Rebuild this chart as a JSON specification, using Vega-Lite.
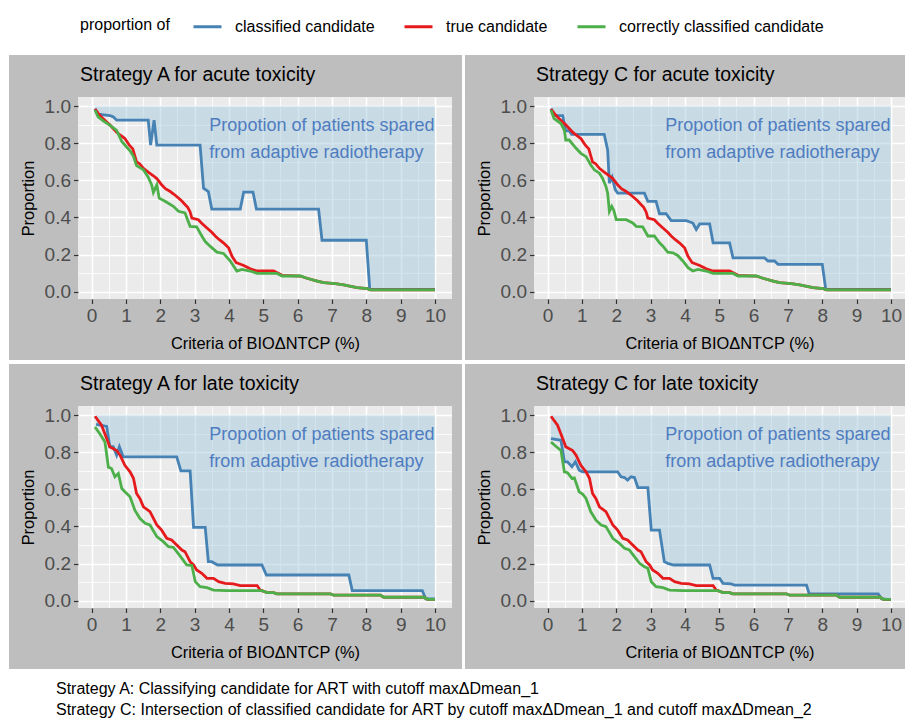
{
"$schema": "https://vega.github.io/schema/vega-lite/v6.json",
"padding": {"left": 9, "top": 15, "right": 0, "bottom": 0},
"background": "white",
"title": {"text": ["Strategy A: Classifying candidate for ART with cutoff maxΔDmean_1", "Strategy C: Intersection of classified candidate for ART by cutoff maxΔDmean_1 and cutoff maxΔDmean_2"], "orient": "bottom", "anchor": "start", "frame": "bounds", "fontSize": 16, "fontWeight": "normal", "color": "black", "lineHeight": 21, "offset": 12, "dx": 47, "baseline": "top"},
"datasets": {
"ac_true": [{"x":0.1,"y":0.985},{"x":0.2,"y":0.96},{"x":0.3,"y":0.94},{"x":0.44,"y":0.915},{"x":0.53,"y":0.9},{"x":0.63,"y":0.88},{"x":0.73,"y":0.86},{"x":0.83,"y":0.845},{"x":0.97,"y":0.826},{"x":1.1,"y":0.79},{"x":1.2,"y":0.77},{"x":1.31,"y":0.7},{"x":1.4,"y":0.69},{"x":1.51,"y":0.665},{"x":1.65,"y":0.645},{"x":1.8,"y":0.625},{"x":1.9,"y":0.61},{"x":2.04,"y":0.576},{"x":2.15,"y":0.555},{"x":2.29,"y":0.54},{"x":2.4,"y":0.525},{"x":2.53,"y":0.505},{"x":2.62,"y":0.49},{"x":2.72,"y":0.47},{"x":2.8,"y":0.455},{"x":2.87,"y":0.43},{"x":2.92,"y":0.397},{"x":3.11,"y":0.388},{"x":3.2,"y":0.37},{"x":3.36,"y":0.343},{"x":3.5,"y":0.32},{"x":3.6,"y":0.3},{"x":3.72,"y":0.28},{"x":3.84,"y":0.263},{"x":3.99,"y":0.236},{"x":4.09,"y":0.19},{"x":4.21,"y":0.156},{"x":4.3,"y":0.15},{"x":4.43,"y":0.141},{"x":4.55,"y":0.13},{"x":4.62,"y":0.123},{"x":4.82,"y":0.111},{"x":5.3,"y":0.111},{"x":5.42,"y":0.1},{"x":5.55,"y":0.088},{"x":6.08,"y":0.084},{"x":6.27,"y":0.072},{"x":6.57,"y":0.057},{"x":6.76,"y":0.048},{"x":7.1,"y":0.043},{"x":7.34,"y":0.036},{"x":7.73,"y":0.021},{"x":8.03,"y":0.016},{"x":8.12,"y":0.009},{"x":10,"y":0.009}],
"acA_cor": [{"x":0.1,"y":0.98},{"x":0.19,"y":0.943},{"x":0.35,"y":0.92},{"x":0.53,"y":0.898},{"x":0.73,"y":0.87},{"x":0.88,"y":0.81},{"x":1.02,"y":0.78},{"x":1.12,"y":0.76},{"x":1.22,"y":0.73},{"x":1.31,"y":0.68},{"x":1.51,"y":0.657},{"x":1.65,"y":0.617},{"x":1.75,"y":0.576},{"x":1.8,"y":0.535},{"x":1.9,"y":0.576},{"x":1.97,"y":0.504},{"x":2.14,"y":0.487},{"x":2.38,"y":0.46},{"x":2.53,"y":0.433},{"x":2.72,"y":0.424},{"x":2.87,"y":0.352},{"x":3.06,"y":0.349},{"x":3.21,"y":0.3},{"x":3.31,"y":0.27},{"x":3.45,"y":0.245},{"x":3.65,"y":0.213},{"x":3.84,"y":0.206},{"x":4.04,"y":0.165},{"x":4.23,"y":0.111},{"x":4.38,"y":0.12},{"x":4.62,"y":0.111},{"x":4.82,"y":0.098},{"x":5.4,"y":0.098},{"x":5.55,"y":0.084},{"x":6.08,"y":0.084},{"x":6.27,"y":0.072},{"x":6.57,"y":0.057},{"x":6.76,"y":0.048},{"x":7.1,"y":0.043},{"x":7.34,"y":0.036},{"x":7.73,"y":0.021},{"x":8.03,"y":0.016},{"x":8.12,"y":0.009},{"x":10,"y":0.009}],
"acA_cls": [{"x":0.1,"y":0.987},{"x":0.19,"y":0.957},{"x":0.53,"y":0.95},{"x":0.63,"y":0.943},{"x":0.73,"y":0.925},{"x":1.65,"y":0.925},{"x":1.72,"y":0.79},{"x":1.82,"y":0.925},{"x":1.9,"y":0.79},{"x":3.16,"y":0.79},{"x":3.26,"y":0.558},{"x":3.4,"y":0.54},{"x":3.5,"y":0.445},{"x":4.33,"y":0.445},{"x":4.43,"y":0.537},{"x":4.7,"y":0.537},{"x":4.8,"y":0.445},{"x":6.61,"y":0.445},{"x":6.71,"y":0.277},{"x":8.0,"y":0.277},{"x":8.1,"y":0.012},{"x":10,"y":0.012}],
"acC_cls": [{"x":0.1,"y":0.987},{"x":0.19,"y":0.95},{"x":0.44,"y":0.95},{"x":0.53,"y":0.868},{"x":0.63,"y":0.868},{"x":0.7,"y":0.848},{"x":1.65,"y":0.848},{"x":1.75,"y":0.764},{"x":1.8,"y":0.585},{"x":1.88,"y":0.617},{"x":1.97,"y":0.55},{"x":2.04,"y":0.531},{"x":2.82,"y":0.531},{"x":2.92,"y":0.487},{"x":3.16,"y":0.487},{"x":3.26,"y":0.42},{"x":3.45,"y":0.42},{"x":3.6,"y":0.383},{"x":4.04,"y":0.383},{"x":4.23,"y":0.37},{"x":4.33,"y":0.335},{"x":4.43,"y":0.365},{"x":4.72,"y":0.365},{"x":4.82,"y":0.263},{"x":5.3,"y":0.263},{"x":5.4,"y":0.182},{"x":6.32,"y":0.182},{"x":6.42,"y":0.165},{"x":6.61,"y":0.165},{"x":6.71,"y":0.147},{"x":8.0,"y":0.147},{"x":8.1,"y":0.012},{"x":10,"y":0.012}],
"acC_cor": [{"x":0.1,"y":0.98},{"x":0.19,"y":0.934},{"x":0.39,"y":0.907},{"x":0.49,"y":0.87},{"x":0.53,"y":0.818},{"x":0.63,"y":0.818},{"x":0.83,"y":0.773},{"x":0.97,"y":0.746},{"x":1.12,"y":0.728},{"x":1.26,"y":0.683},{"x":1.36,"y":0.657},{"x":1.51,"y":0.639},{"x":1.6,"y":0.612},{"x":1.7,"y":0.567},{"x":1.75,"y":0.531},{"x":1.8,"y":0.433},{"x":1.87,"y":0.46},{"x":1.93,"y":0.438},{"x":2.0,"y":0.388},{"x":2.29,"y":0.388},{"x":2.48,"y":0.37},{"x":2.58,"y":0.352},{"x":2.77,"y":0.349},{"x":2.92,"y":0.3},{"x":3.11,"y":0.3},{"x":3.26,"y":0.263},{"x":3.36,"y":0.245},{"x":3.5,"y":0.213},{"x":3.65,"y":0.209},{"x":3.79,"y":0.195},{"x":3.94,"y":0.165},{"x":4.09,"y":0.129},{"x":4.23,"y":0.111},{"x":4.38,"y":0.12},{"x":4.62,"y":0.111},{"x":4.82,"y":0.098},{"x":5.4,"y":0.098},{"x":5.55,"y":0.084},{"x":6.08,"y":0.084},{"x":6.27,"y":0.072},{"x":6.57,"y":0.057},{"x":6.76,"y":0.048},{"x":7.1,"y":0.043},{"x":7.34,"y":0.036},{"x":7.73,"y":0.021},{"x":8.03,"y":0.016},{"x":8.12,"y":0.009},{"x":10,"y":0.009}],
"la_true": [{"x":0.1,"y":0.995},{"x":0.29,"y":0.946},{"x":0.44,"y":0.874},{"x":0.53,"y":0.83},{"x":0.73,"y":0.81},{"x":0.83,"y":0.785},{"x":0.97,"y":0.73},{"x":1.12,"y":0.695},{"x":1.22,"y":0.66},{"x":1.31,"y":0.578},{"x":1.41,"y":0.55},{"x":1.51,"y":0.506},{"x":1.7,"y":0.48},{"x":1.9,"y":0.408},{"x":2.04,"y":0.38},{"x":2.19,"y":0.336},{"x":2.33,"y":0.327},{"x":2.48,"y":0.3},{"x":2.63,"y":0.273},{"x":2.72,"y":0.264},{"x":2.87,"y":0.21},{"x":2.97,"y":0.192},{"x":3.06,"y":0.165},{"x":3.21,"y":0.147},{"x":3.36,"y":0.12},{"x":3.55,"y":0.12},{"x":3.7,"y":0.102},{"x":3.89,"y":0.093},{"x":4.13,"y":0.09},{"x":4.33,"y":0.081},{"x":4.82,"y":0.081},{"x":4.91,"y":0.057},{"x":4.96,"y":0.054},{"x":5.11,"y":0.043},{"x":5.3,"y":0.043},{"x":5.4,"y":0.036},{"x":6.96,"y":0.036},{"x":7.05,"y":0.029},{"x":8.41,"y":0.029},{"x":8.51,"y":0.018},{"x":9.68,"y":0.018},{"x":9.78,"y":0.007},{"x":10,"y":0.007}],
"laA_cls": [{"x":0.13,"y":0.951},{"x":0.44,"y":0.94},{"x":0.53,"y":0.83},{"x":0.63,"y":0.83},{"x":0.73,"y":0.785},{"x":0.81,"y":0.83},{"x":0.92,"y":0.776},{"x":2.48,"y":0.776},{"x":2.6,"y":0.7},{"x":2.87,"y":0.7},{"x":2.97,"y":0.395},{"x":3.31,"y":0.395},{"x":3.4,"y":0.21},{"x":3.5,"y":0.21},{"x":3.67,"y":0.192},{"x":4.96,"y":0.192},{"x":5.09,"y":0.138},{"x":7.49,"y":0.138},{"x":7.59,"y":0.054},{"x":9.63,"y":0.054},{"x":9.73,"y":0.009},{"x":10,"y":0.009}],
"laA_cor": [{"x":0.1,"y":0.937},{"x":0.24,"y":0.9},{"x":0.39,"y":0.856},{"x":0.49,"y":0.72},{"x":0.58,"y":0.713},{"x":0.68,"y":0.668},{"x":0.78,"y":0.686},{"x":0.88,"y":0.605},{"x":0.97,"y":0.587},{"x":1.12,"y":0.56},{"x":1.26,"y":0.488},{"x":1.41,"y":0.443},{"x":1.56,"y":0.417},{"x":1.7,"y":0.408},{"x":1.9,"y":0.345},{"x":2.09,"y":0.318},{"x":2.24,"y":0.291},{"x":2.38,"y":0.287},{"x":2.48,"y":0.264},{"x":2.63,"y":0.228},{"x":2.77,"y":0.192},{"x":2.92,"y":0.189},{"x":3.02,"y":0.102},{"x":3.16,"y":0.075},{"x":3.36,"y":0.07},{"x":3.55,"y":0.057},{"x":3.94,"y":0.054},{"x":4.96,"y":0.054},{"x":5.11,"y":0.043},{"x":5.3,"y":0.043},{"x":5.4,"y":0.036},{"x":6.96,"y":0.036},{"x":7.05,"y":0.029},{"x":8.41,"y":0.029},{"x":8.51,"y":0.018},{"x":9.68,"y":0.018},{"x":9.78,"y":0.007},{"x":10,"y":0.007}],
"laC_cls": [{"x":0.1,"y":0.874},{"x":0.39,"y":0.865},{"x":0.49,"y":0.749},{"x":0.58,"y":0.749},{"x":0.71,"y":0.722},{"x":0.81,"y":0.749},{"x":0.92,"y":0.704},{"x":1.02,"y":0.695},{"x":2.04,"y":0.695},{"x":2.14,"y":0.668},{"x":2.24,"y":0.664},{"x":2.33,"y":0.65},{"x":2.43,"y":0.668},{"x":2.53,"y":0.664},{"x":2.63,"y":0.61},{"x":2.92,"y":0.61},{"x":3.02,"y":0.38},{"x":3.26,"y":0.38},{"x":3.4,"y":0.21},{"x":3.5,"y":0.201},{"x":3.67,"y":0.192},{"x":4.72,"y":0.192},{"x":4.82,"y":0.12},{"x":5.01,"y":0.12},{"x":5.11,"y":0.093},{"x":5.35,"y":0.09},{"x":5.45,"y":0.083},{"x":7.54,"y":0.083},{"x":7.62,"y":0.036},{"x":9.63,"y":0.036},{"x":9.73,"y":0.009},{"x":10,"y":0.005}],
"laC_cor": [{"x":0.1,"y":0.856},{"x":0.24,"y":0.833},{"x":0.39,"y":0.81},{"x":0.49,"y":0.695},{"x":0.58,"y":0.69},{"x":0.71,"y":0.659},{"x":0.78,"y":0.662},{"x":0.92,"y":0.587},{"x":1.02,"y":0.575},{"x":1.12,"y":0.551},{"x":1.26,"y":0.479},{"x":1.41,"y":0.434},{"x":1.56,"y":0.408},{"x":1.7,"y":0.399},{"x":1.9,"y":0.336},{"x":2.09,"y":0.309},{"x":2.24,"y":0.282},{"x":2.38,"y":0.273},{"x":2.53,"y":0.237},{"x":2.68,"y":0.201},{"x":2.82,"y":0.183},{"x":2.92,"y":0.174},{"x":3.02,"y":0.102},{"x":3.16,"y":0.075},{"x":3.36,"y":0.07},{"x":3.55,"y":0.057},{"x":3.94,"y":0.054},{"x":4.96,"y":0.054},{"x":5.11,"y":0.043},{"x":5.3,"y":0.043},{"x":5.4,"y":0.036},{"x":6.96,"y":0.036},{"x":7.05,"y":0.029},{"x":8.41,"y":0.029},{"x":8.51,"y":0.018},{"x":9.68,"y":0.018},{"x":9.78,"y":0.007},{"x":10,"y":0.007}]
},
"columns": 2,
"spacing": 3,
"align": "each",
"concat": [
{
"width": 374, "height": 202,
"resolve": {"axis": {"x": "independent", "y": "independent"}},
"layer": [
{"data": {"values": [{}]}, "mark": {"type": "rect", "color": "#bebebe"}, "encoding": {
 "x": {"datum": -2.404, "type": "quantitative", "scale": {"domain": [-0.395, 10.495], "nice": false, "zero": false}, "axis": {"orient": "bottom", "grid": true, "labels": false, "ticks": false, "domain": false, "title": null, "zindex": 0, "values": [0,0.5,1,1.5,2,2.5,3,3.5,4,4.5,5,5.5,6,6.5,7,7.5,8,8.5,9,9.5,10], "gridColor": "white", "gridWidth": {"condition": {"test": "datum.value % 1 === 0", "value": 1.6}, "value": 0.8}}},
 "x2": {"datum": -0.395},
 "y": {"datum": -0.3692, "type": "quantitative", "scale": {"domain": [-0.04, 1.05], "nice": false, "zero": false}, "axis": {"orient": "left", "grid": true, "labels": false, "ticks": false, "domain": false, "title": null, "zindex": 0, "values": [0,0.1,0.2,0.3,0.4,0.5,0.6,0.7,0.8,0.9,1], "gridColor": "white", "gridWidth": {"condition": {"test": "round(datum.value*10) % 2 === 0", "value": 1.6}, "value": 0.8}}},
 "y2": {"datum": 1.2766}}},
{"data": {"values": [{}]}, "mark": {"type": "rect", "color": "#bebebe"}, "encoding": {
 "x": {"datum": 10.495, "type": "quantitative", "axis": null}, "x2": {"datum": 10.786},
 "y": {"datum": -0.3692, "type": "quantitative", "axis": null}, "y2": {"datum": 1.2766}}},
{"data": {"values": [{}]}, "mark": {"type": "rect", "color": "#bebebe"}, "encoding": {
 "x": {"datum": -2.404, "type": "quantitative", "axis": null}, "x2": {"datum": 10.786},
 "y": {"datum": 1.05, "type": "quantitative", "axis": null}, "y2": {"datum": 1.2766}}},
{"data": {"values": [{}]}, "mark": {"type": "rect", "color": "#bebebe"}, "encoding": {
 "x": {"datum": -2.404, "type": "quantitative", "axis": null}, "x2": {"datum": 10.786},
 "y": {"datum": -0.3692, "type": "quantitative", "axis": null}, "y2": {"datum": -0.04}}},
{"data": {"values": [{}]}, "mark": {"type": "text", "align": "left", "baseline": "alphabetic", "fontSize": 19.5, "color": "black", "text": "Strategy A for acute toxicity"}, "encoding": {
 "x": {"datum": -0.337, "type": "quantitative", "axis": null}, "y": {"datum": 1.136, "type": "quantitative", "axis": null}}},
{"data": {"name": "acA_cls"}, "mark": {"type": "area", "color": "#9ec5dc", "opacity": 0.45}, "encoding": {
 "x": {"field": "x", "type": "quantitative", "axis": null}, "y": {"field": "y", "type": "quantitative", "axis": null}, "y2": {"datum": 1}}},
{"data": {"name": "acA_cls"}, "mark": {"type": "line", "strokeWidth": 2.8}, "encoding": {
 "x": {"field": "x", "type": "quantitative", "axis": {"orient": "bottom", "grid": false, "zindex": 1, "values": [0,1,2,3,4,5,6,7,8,9,10], "title": "Criteria of BIOΔNTCP (%)"}},
 "y": {"field": "y", "type": "quantitative", "axis": {"orient": "left", "grid": false, "zindex": 1, "values": [0,0.2,0.4,0.6,0.8,1], "format": ".1f", "title": "Proportion"}},
 "color": {"datum": "classified candidate", "type": "nominal", "scale": {"domain": ["classified candidate", "true candidate", "correctly classified candidate"], "range": ["#4682b4", "#e41a1c", "#4daf4a"]}, "legend": {"title": "proportion of"}}}},
{"data": {"name": "ac_true"}, "mark": {"type": "line", "strokeWidth": 2.8}, "encoding": {
 "x": {"field": "x", "type": "quantitative", "axis": null}, "y": {"field": "y", "type": "quantitative", "axis": null},
 "color": {"datum": "true candidate", "type": "nominal"}}},
{"data": {"name": "acA_cor"}, "mark": {"type": "line", "strokeWidth": 2.8}, "encoding": {
 "x": {"field": "x", "type": "quantitative", "axis": null}, "y": {"field": "y", "type": "quantitative", "axis": null},
 "color": {"datum": "correctly classified candidate", "type": "nominal"}}},
{"data": {"values": [{}]}, "mark": {"type": "text", "align": "left", "baseline": "middle", "fontSize": 18, "color": "#4f7cc0", "lineHeight": 27, "text": ["Propotion of patients spared", "from adaptive radiotherapy"]}, "encoding": {
 "x": {"datum": 3.43, "type": "quantitative", "axis": null}, "y": {"datum": 0.893, "type": "quantitative", "axis": null}}}
]
},
{
"width": 371, "height": 202,
"resolve": {"axis": {"x": "independent", "y": "independent"}},
"layer": [
{"data": {"values": [{}]}, "mark": {"type": "rect", "color": "#bebebe"}, "encoding": {
 "x": {"datum": -2.404, "type": "quantitative", "scale": {"domain": [-0.395, 10.409], "nice": false, "zero": false}, "axis": {"orient": "bottom", "grid": true, "labels": false, "ticks": false, "domain": false, "title": null, "zindex": 0, "values": [0,0.5,1,1.5,2,2.5,3,3.5,4,4.5,5,5.5,6,6.5,7,7.5,8,8.5,9,9.5,10], "gridColor": "white", "gridWidth": {"condition": {"test": "datum.value % 1 === 0", "value": 1.6}, "value": 0.8}}},
 "x2": {"datum": -0.395},
 "y": {"datum": -0.3692, "type": "quantitative", "scale": {"domain": [-0.04, 1.05], "nice": false, "zero": false}, "axis": {"orient": "left", "grid": true, "labels": false, "ticks": false, "domain": false, "title": null, "zindex": 0, "values": [0,0.1,0.2,0.3,0.4,0.5,0.6,0.7,0.8,0.9,1], "gridColor": "white", "gridWidth": {"condition": {"test": "round(datum.value*10) % 2 === 0", "value": 1.6}, "value": 0.8}}},
 "y2": {"datum": 1.2766}}},
{"data": {"values": [{}]}, "mark": {"type": "rect", "color": "#bebebe"}, "encoding": {
 "x": {"datum": -2.404, "type": "quantitative", "axis": null}, "x2": {"datum": 10.409},
 "y": {"datum": 1.05, "type": "quantitative", "axis": null}, "y2": {"datum": 1.2766}}},
{"data": {"values": [{}]}, "mark": {"type": "rect", "color": "#bebebe"}, "encoding": {
 "x": {"datum": -2.404, "type": "quantitative", "axis": null}, "x2": {"datum": 10.409},
 "y": {"datum": -0.3692, "type": "quantitative", "axis": null}, "y2": {"datum": -0.04}}},
{"data": {"values": [{}]}, "mark": {"type": "text", "align": "left", "baseline": "alphabetic", "fontSize": 19.5, "color": "black", "text": "Strategy C for acute toxicity"}, "encoding": {
 "x": {"datum": -0.337, "type": "quantitative", "axis": null}, "y": {"datum": 1.136, "type": "quantitative", "axis": null}}},
{"data": {"name": "acC_cls"}, "mark": {"type": "area", "color": "#9ec5dc", "opacity": 0.45}, "encoding": {
 "x": {"field": "x", "type": "quantitative", "axis": null}, "y": {"field": "y", "type": "quantitative", "axis": null}, "y2": {"datum": 1}}},
{"data": {"name": "acC_cls"}, "mark": {"type": "line", "strokeWidth": 2.8}, "encoding": {
 "x": {"field": "x", "type": "quantitative", "axis": {"orient": "bottom", "grid": false, "zindex": 1, "values": [0,1,2,3,4,5,6,7,8,9,10], "title": "Criteria of BIOΔNTCP (%)"}},
 "y": {"field": "y", "type": "quantitative", "axis": {"orient": "left", "grid": false, "zindex": 1, "values": [0,0.2,0.4,0.6,0.8,1], "format": ".1f", "title": "Proportion"}},
 "color": {"datum": "classified candidate", "type": "nominal"}}},
{"data": {"name": "ac_true"}, "mark": {"type": "line", "strokeWidth": 2.8}, "encoding": {
 "x": {"field": "x", "type": "quantitative", "axis": null}, "y": {"field": "y", "type": "quantitative", "axis": null},
 "color": {"datum": "true candidate", "type": "nominal"}}},
{"data": {"name": "acC_cor"}, "mark": {"type": "line", "strokeWidth": 2.8}, "encoding": {
 "x": {"field": "x", "type": "quantitative", "axis": null}, "y": {"field": "y", "type": "quantitative", "axis": null},
 "color": {"datum": "correctly classified candidate", "type": "nominal"}}},
{"data": {"values": [{}]}, "mark": {"type": "text", "align": "left", "baseline": "middle", "fontSize": 18, "color": "#4f7cc0", "lineHeight": 27, "text": ["Propotion of patients spared", "from adaptive radiotherapy"]}, "encoding": {
 "x": {"datum": 3.43, "type": "quantitative", "axis": null}, "y": {"datum": 0.893, "type": "quantitative", "axis": null}}}
]
},
{
"width": 374, "height": 202,
"resolve": {"axis": {"x": "independent", "y": "independent"}},
"layer": [
{"data": {"values": [{}]}, "mark": {"type": "rect", "color": "#bebebe"}, "encoding": {
 "x": {"datum": -2.404, "type": "quantitative", "scale": {"domain": [-0.395, 10.495], "nice": false, "zero": false}, "axis": {"orient": "bottom", "grid": true, "labels": false, "ticks": false, "domain": false, "title": null, "zindex": 0, "values": [0,0.5,1,1.5,2,2.5,3,3.5,4,4.5,5,5.5,6,6.5,7,7.5,8,8.5,9,9.5,10], "gridColor": "white", "gridWidth": {"condition": {"test": "datum.value % 1 === 0", "value": 1.6}, "value": 0.8}}},
 "x2": {"datum": -0.395},
 "y": {"datum": -0.3692, "type": "quantitative", "scale": {"domain": [-0.04, 1.05], "nice": false, "zero": false}, "axis": {"orient": "left", "grid": true, "labels": false, "ticks": false, "domain": false, "title": null, "zindex": 0, "values": [0,0.1,0.2,0.3,0.4,0.5,0.6,0.7,0.8,0.9,1], "gridColor": "white", "gridWidth": {"condition": {"test": "round(datum.value*10) % 2 === 0", "value": 1.6}, "value": 0.8}}},
 "y2": {"datum": 1.2766}}},
{"data": {"values": [{}]}, "mark": {"type": "rect", "color": "#bebebe"}, "encoding": {
 "x": {"datum": 10.495, "type": "quantitative", "axis": null}, "x2": {"datum": 10.786},
 "y": {"datum": -0.3692, "type": "quantitative", "axis": null}, "y2": {"datum": 1.2766}}},
{"data": {"values": [{}]}, "mark": {"type": "rect", "color": "#bebebe"}, "encoding": {
 "x": {"datum": -2.404, "type": "quantitative", "axis": null}, "x2": {"datum": 10.786},
 "y": {"datum": 1.05, "type": "quantitative", "axis": null}, "y2": {"datum": 1.2766}}},
{"data": {"values": [{}]}, "mark": {"type": "rect", "color": "#bebebe"}, "encoding": {
 "x": {"datum": -2.404, "type": "quantitative", "axis": null}, "x2": {"datum": 10.786},
 "y": {"datum": -0.3692, "type": "quantitative", "axis": null}, "y2": {"datum": -0.04}}},
{"data": {"values": [{}]}, "mark": {"type": "text", "align": "left", "baseline": "alphabetic", "fontSize": 19.5, "color": "black", "text": "Strategy A for late toxicity"}, "encoding": {
 "x": {"datum": -0.337, "type": "quantitative", "axis": null}, "y": {"datum": 1.136, "type": "quantitative", "axis": null}}},
{"data": {"name": "laA_cls"}, "mark": {"type": "area", "color": "#9ec5dc", "opacity": 0.45}, "encoding": {
 "x": {"field": "x", "type": "quantitative", "axis": null}, "y": {"field": "y", "type": "quantitative", "axis": null}, "y2": {"datum": 1}}},
{"data": {"name": "laA_cls"}, "mark": {"type": "line", "strokeWidth": 2.8}, "encoding": {
 "x": {"field": "x", "type": "quantitative", "axis": {"orient": "bottom", "grid": false, "zindex": 1, "values": [0,1,2,3,4,5,6,7,8,9,10], "title": "Criteria of BIOΔNTCP (%)"}},
 "y": {"field": "y", "type": "quantitative", "axis": {"orient": "left", "grid": false, "zindex": 1, "values": [0,0.2,0.4,0.6,0.8,1], "format": ".1f", "title": "Proportion"}},
 "color": {"datum": "classified candidate", "type": "nominal"}}},
{"data": {"name": "la_true"}, "mark": {"type": "line", "strokeWidth": 2.8}, "encoding": {
 "x": {"field": "x", "type": "quantitative", "axis": null}, "y": {"field": "y", "type": "quantitative", "axis": null},
 "color": {"datum": "true candidate", "type": "nominal"}}},
{"data": {"name": "laA_cor"}, "mark": {"type": "line", "strokeWidth": 2.8}, "encoding": {
 "x": {"field": "x", "type": "quantitative", "axis": null}, "y": {"field": "y", "type": "quantitative", "axis": null},
 "color": {"datum": "correctly classified candidate", "type": "nominal"}}},
{"data": {"values": [{}]}, "mark": {"type": "text", "align": "left", "baseline": "middle", "fontSize": 18, "color": "#4f7cc0", "lineHeight": 27, "text": ["Propotion of patients spared", "from adaptive radiotherapy"]}, "encoding": {
 "x": {"datum": 3.43, "type": "quantitative", "axis": null}, "y": {"datum": 0.893, "type": "quantitative", "axis": null}}}
]
},
{
"width": 371, "height": 202,
"resolve": {"axis": {"x": "independent", "y": "independent"}},
"layer": [
{"data": {"values": [{}]}, "mark": {"type": "rect", "color": "#bebebe"}, "encoding": {
 "x": {"datum": -2.404, "type": "quantitative", "scale": {"domain": [-0.395, 10.409], "nice": false, "zero": false}, "axis": {"orient": "bottom", "grid": true, "labels": false, "ticks": false, "domain": false, "title": null, "zindex": 0, "values": [0,0.5,1,1.5,2,2.5,3,3.5,4,4.5,5,5.5,6,6.5,7,7.5,8,8.5,9,9.5,10], "gridColor": "white", "gridWidth": {"condition": {"test": "datum.value % 1 === 0", "value": 1.6}, "value": 0.8}}},
 "x2": {"datum": -0.395},
 "y": {"datum": -0.3692, "type": "quantitative", "scale": {"domain": [-0.04, 1.05], "nice": false, "zero": false}, "axis": {"orient": "left", "grid": true, "labels": false, "ticks": false, "domain": false, "title": null, "zindex": 0, "values": [0,0.1,0.2,0.3,0.4,0.5,0.6,0.7,0.8,0.9,1], "gridColor": "white", "gridWidth": {"condition": {"test": "round(datum.value*10) % 2 === 0", "value": 1.6}, "value": 0.8}}},
 "y2": {"datum": 1.2766}}},
{"data": {"values": [{}]}, "mark": {"type": "rect", "color": "#bebebe"}, "encoding": {
 "x": {"datum": -2.404, "type": "quantitative", "axis": null}, "x2": {"datum": 10.409},
 "y": {"datum": 1.05, "type": "quantitative", "axis": null}, "y2": {"datum": 1.2766}}},
{"data": {"values": [{}]}, "mark": {"type": "rect", "color": "#bebebe"}, "encoding": {
 "x": {"datum": -2.404, "type": "quantitative", "axis": null}, "x2": {"datum": 10.409},
 "y": {"datum": -0.3692, "type": "quantitative", "axis": null}, "y2": {"datum": -0.04}}},
{"data": {"values": [{}]}, "mark": {"type": "text", "align": "left", "baseline": "alphabetic", "fontSize": 19.5, "color": "black", "text": "Strategy C for late toxicity"}, "encoding": {
 "x": {"datum": -0.337, "type": "quantitative", "axis": null}, "y": {"datum": 1.136, "type": "quantitative", "axis": null}}},
{"data": {"name": "laC_cls"}, "mark": {"type": "area", "color": "#9ec5dc", "opacity": 0.45}, "encoding": {
 "x": {"field": "x", "type": "quantitative", "axis": null}, "y": {"field": "y", "type": "quantitative", "axis": null}, "y2": {"datum": 1}}},
{"data": {"name": "laC_cls"}, "mark": {"type": "line", "strokeWidth": 2.8}, "encoding": {
 "x": {"field": "x", "type": "quantitative", "axis": {"orient": "bottom", "grid": false, "zindex": 1, "values": [0,1,2,3,4,5,6,7,8,9,10], "title": "Criteria of BIOΔNTCP (%)"}},
 "y": {"field": "y", "type": "quantitative", "axis": {"orient": "left", "grid": false, "zindex": 1, "values": [0,0.2,0.4,0.6,0.8,1], "format": ".1f", "title": "Proportion"}},
 "color": {"datum": "classified candidate", "type": "nominal"}}},
{"data": {"name": "la_true"}, "mark": {"type": "line", "strokeWidth": 2.8}, "encoding": {
 "x": {"field": "x", "type": "quantitative", "axis": null}, "y": {"field": "y", "type": "quantitative", "axis": null},
 "color": {"datum": "true candidate", "type": "nominal"}}},
{"data": {"name": "laC_cor"}, "mark": {"type": "line", "strokeWidth": 2.8}, "encoding": {
 "x": {"field": "x", "type": "quantitative", "axis": null}, "y": {"field": "y", "type": "quantitative", "axis": null},
 "color": {"datum": "correctly classified candidate", "type": "nominal"}}},
{"data": {"values": [{}]}, "mark": {"type": "text", "align": "left", "baseline": "middle", "fontSize": 18, "color": "#4f7cc0", "lineHeight": 27, "text": ["Propotion of patients spared", "from adaptive radiotherapy"]}, "encoding": {
 "x": {"datum": 3.43, "type": "quantitative", "axis": null}, "y": {"datum": 0.893, "type": "quantitative", "axis": null}}}
]
}
],
"config": {
 "font": "Liberation Sans",
 "view": {"fill": "#ebebeb", "stroke": null},
 "axis": {"domain": false, "tickColor": "#333333", "tickSize": 4.5, "tickWidth": 1.2, "labelColor": "#4d4d4d", "labelFontSize": 19, "labelPadding": 3, "labelFlush": false, "labelOverlap": false, "titleFontSize": 16.4, "titleFontWeight": "normal", "titleColor": "black"},
 "axisX": {"titlePadding": 10},
 "axisY": {"titlePadding": 8},
 "legend": {"orient": "none", "legendX": 2, "legendY": -82, "direction": "horizontal", "titleOrient": "left", "titleFontSize": 16, "titleFontWeight": "normal", "titleColor": "black", "titlePadding": 26, "labelFontSize": 16, "labelColor": "black", "labelOffset": 16, "labelLimit": 300, "columnPadding": 23, "symbolType": "M-1.4,0H1.4", "symbolSize": 400, "symbolStrokeWidth": 3, "padding": 0}
}
}
